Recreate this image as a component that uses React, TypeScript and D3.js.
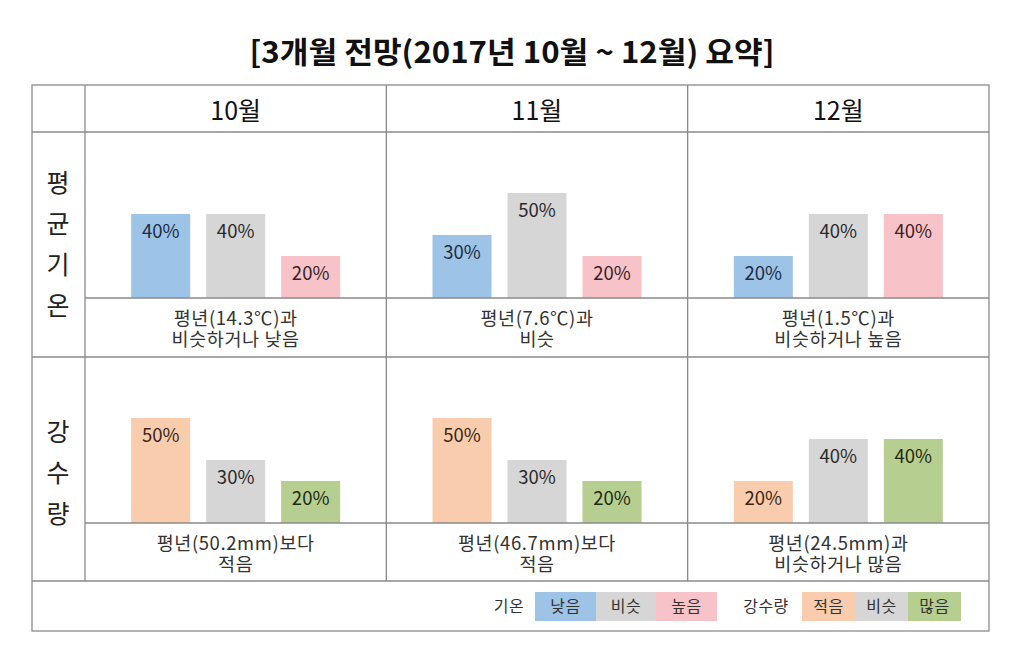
import React from "react";
import * as d3 from "d3";

const title = "[3개월 전망(2017년 10월 ~ 12월) 요약]";
const months = ["10월", "11월", "12월"];
const tempLabel = ["평", "균", "기", "온"];
const precipLabel = ["강", "수", "량"];
const tempCategories = ["낮음", "비슷", "높음"];
const precipCategories = ["적음", "비슷", "많음"];
const tempValues = [
  [40, 40, 20],
  [30, 50, 20],
  [20, 40, 40],
];
const precipValues = [
  [50, 30, 20],
  [50, 30, 20],
  [20, 40, 40],
];
const tempNotes = [
  ["평년(14.3℃)과", "비슷하거나 낮음"],
  ["평년(7.6℃)과", "비슷"],
  ["평년(1.5℃)과", "비슷하거나 높음"],
];
const precipNotes = [
  ["평년(50.2mm)보다", "적음"],
  ["평년(46.7mm)보다", "적음"],
  ["평년(24.5mm)과", "비슷하거나 많음"],
];
const tempLegendTitle = "기온";
const precipLegendTitle = "강수량";

const tempColors = ["#9DC3E6", "#D6D6D6", "#F7C3C8"];
const precipColors = ["#F9CCAD", "#D6D6D6", "#B7CE91"];
const tempTextColors = ["#1c2c44", "#2a2a2a", "#3a2226"];
const precipTextColors = ["#3a2616", "#2a2a2a", "#1f2a12"];

const FONT = "'Noto Sans CJK KR', 'Noto Sans', sans-serif";
const W = 1024;
const H = 657;
const L = 32, C0 = 85, R = 989;
const T = 85, HEAD_B = 132, ROW1_BASE = 298, ROW1_B = 357, ROW2_BASE = 523, ROW2_B = 581, B = 631;
const LINE = "#8a8a8a";

const colScale = d3.scaleBand<string>().domain(months).range([C0, R]).padding(0);

function barScale(cx: number, cats: string[]) {
  return d3.scaleBand<string>().domain(cats).range([cx - 104.5, cx + 104.5]).paddingInner(0.213).paddingOuter(0);
}

function BarGroup({ month, values, cats, colors, textColors, base }: any) {
  const x0 = colScale(month)!;
  const cx = x0 + colScale.bandwidth() / 2;
  const xs = barScale(cx, cats);
  const y = d3.scaleLinear().domain([0, 100]).range([base, base - 210]);
  return (
    <g>
      {cats.map((c: string, i: number) => {
        const top = y(values[i]);
        return (
          <g key={c}>
            <rect x={xs(c)} y={top} width={xs.bandwidth()} height={base - top} fill={colors[i]} />
            <text x={xs(c)! + xs.bandwidth() / 2} y={top + 24} textAnchor="middle" fontSize={18.5} fill={textColors[i]} fontFamily={FONT}>
              {values[i]}%
            </text>
          </g>
        );
      })}
    </g>
  );
}

function Notes({ month, lines, base }: any) {
  const cx = colScale(month)! + colScale.bandwidth() / 2;
  return (
    <g fontFamily={FONT} fontSize={18.5} fill="#333" textAnchor="middle" letterSpacing={0.6}>
      <text x={cx} y={base + 27}>{lines[0]}</text>
      <text x={cx} y={base + 48}>{lines[1]}</text>
    </g>
  );
}

function LegendGroup({ label, labelX, startX, widths, cats, colors }: any) {
  let x = startX;
  return (
    <g fontFamily={FONT} fontSize={16} textAnchor="middle" letterSpacing={0.5}>
      <text x={labelX} y={612} fill="#333">{label}</text>
      {cats.map((c: string, i: number) => {
        const bx = x;
        x += widths[i];
        return (
          <g key={c}>
            <rect x={bx} y={592} width={widths[i]} height={29} fill={colors[i]} />
            <text x={bx + widths[i] / 2} y={612} fill="#333">{c}</text>
          </g>
        );
      })}
    </g>
  );
}

export default function App() {
  const vLines = [C0, ...months.slice(1).map((m) => colScale(m)!)];
  return (
    <svg width={W} height={H} style={{ position: "absolute", left: 0, top: 0, background: "#fff" }}>
      <rect x={0} y={0} width={W} height={H} fill="#fff" />
      <text x={512} y={63} textAnchor="middle" fontFamily={FONT} fontWeight={700} fontSize={30} fill="#111" textLength={525} lengthAdjust="spacingAndGlyphs">
        {title}
      </text>

      {months.map((m, i) => (
        <g key={m}>
          <text x={colScale(m)! + colScale.bandwidth() / 2} y={120} textAnchor="middle" fontFamily={FONT} fontSize={25} fill="#111">
            {m}
          </text>
          <BarGroup month={m} values={tempValues[i]} cats={tempCategories} colors={tempColors} textColors={tempTextColors} base={ROW1_BASE} />
          <BarGroup month={m} values={precipValues[i]} cats={precipCategories} colors={precipColors} textColors={precipTextColors} base={ROW2_BASE} />
          <Notes month={m} lines={tempNotes[i]} base={ROW1_BASE} />
          <Notes month={m} lines={precipNotes[i]} base={ROW2_BASE} />
        </g>
      ))}

      <g fontFamily={FONT} fontSize={25} fill="#222" textAnchor="middle">
        {tempLabel.map((c, i) => (
          <text key={c + i} x={58} y={(HEAD_B + ROW1_B) / 2 + (i - 1.5) * 41 + 9}>{c}</text>
        ))}
        {precipLabel.map((c, i) => (
          <text key={c + i} x={58} y={(ROW1_B + ROW2_B) / 2 + 4 + (i - 1) * 41 + 9}>{c}</text>
        ))}
      </g>

      <LegendGroup label={tempLegendTitle} labelX={509} startX={535} widths={[61, 60, 61]} cats={tempCategories} colors={tempColors} />
      <LegendGroup label={precipLegendTitle} labelX={766} startX={802} widths={[53, 53, 53]} cats={precipCategories} colors={precipColors} />

      <g stroke={LINE} strokeWidth={1.3} fill="none">
        <rect x={L} y={T} width={R - L} height={B - T} />
        <line x1={L} x2={R} y1={HEAD_B} y2={HEAD_B} />
        <line x1={L} x2={R} y1={ROW1_B} y2={ROW1_B} />
        <line x1={L} x2={R} y1={ROW2_B} y2={ROW2_B} />
        <line x1={C0} x2={R} y1={ROW1_BASE} y2={ROW1_BASE} />
        <line x1={C0} x2={R} y1={ROW2_BASE} y2={ROW2_BASE} />
        {vLines.map((x, i) => (
          <line key={i} x1={x} x2={x} y1={T} y2={ROW2_B} />
        ))}
      </g>
    </svg>
  );
}
